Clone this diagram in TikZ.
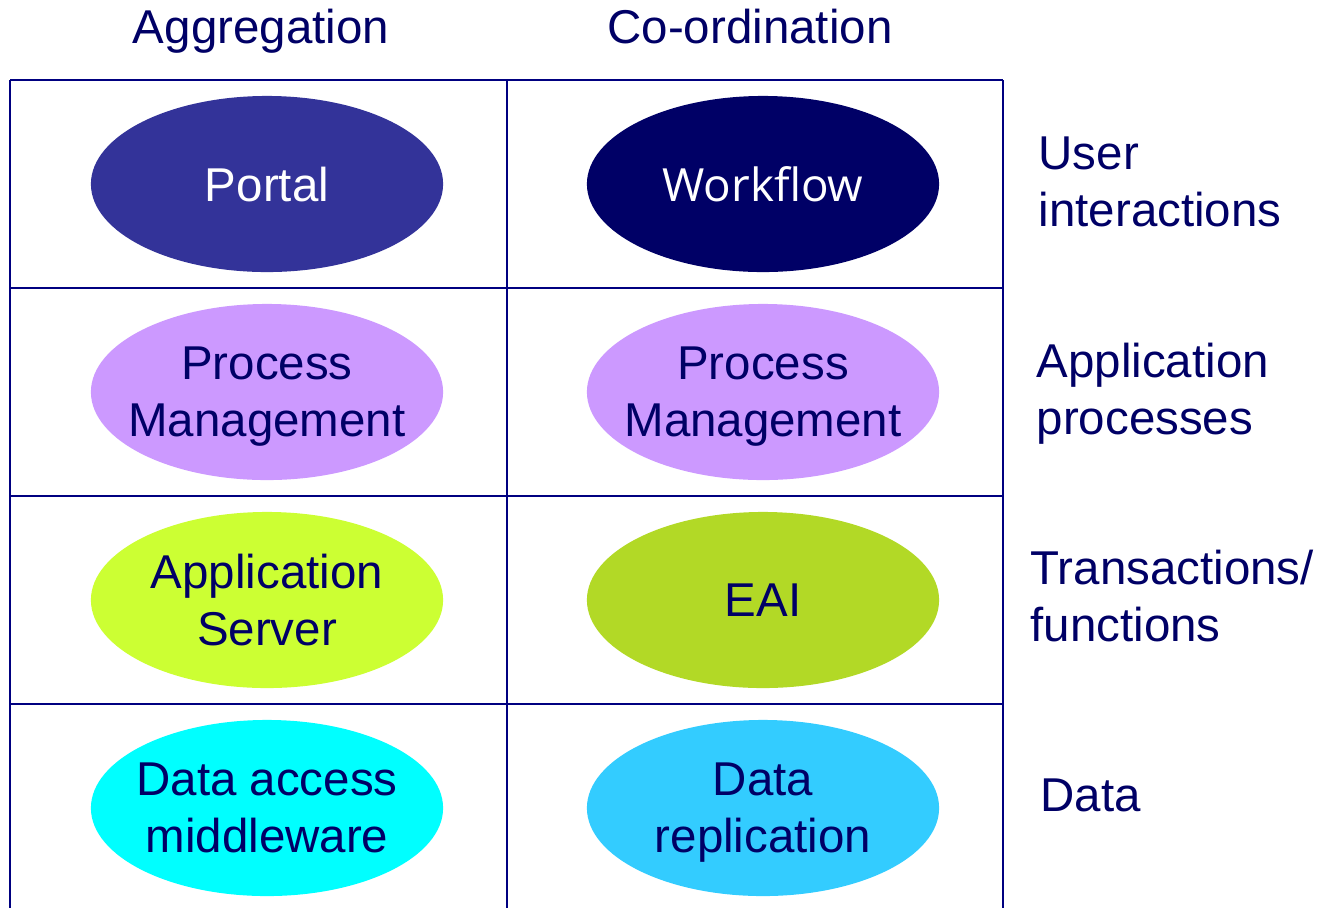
\documentclass[tikz,border=0pt]{standalone}
\usepackage{fontspec}
\setmainfont{Liberation Sans}
\newfontfamily\wfont{Open Sans}
\usetikzlibrary{shapes.geometric}
\definecolor{navy}{HTML}{000066}
\definecolor{gridblue}{HTML}{000080}
\definecolor{portalblue}{HTML}{333399}
\definecolor{lilac}{HTML}{CC99FF}
\definecolor{lime}{HTML}{CCFF33}
\definecolor{leaf}{HTML}{B2D926}
\definecolor{aqua}{HTML}{00FFFF}
\definecolor{sky}{HTML}{33CCFF}
\begin{document}
\begin{tikzpicture}[x=0.01cm, y=-0.01cm,
    every node/.style={text=navy, font=\fontsize{13.5}{16.2}\selectfont},
    n/.style={ellipse, fill=#1, minimum width=3.52cm, minimum height=1.76cm, inner sep=-10pt, text depth=0pt, align=center},
    lbl/.style={anchor=west, inner sep=0pt, align=left},
    rule/.style={draw=gridblue, line width=0.6pt}]
    \useasboundingbox (0,0) rectangle (1333,908);

    \foreach \y in {80,288,496,704}
        \draw[rule] (10,\y) -- (1003,\y);
    \foreach \x in {10,507,1003}
        \draw[rule] (\x,80) -- (\x,908);

    \node[anchor=base] (agg) at (261,43) {Aggregation};
    \node[anchor=base] (coord) at (750,43) {Co-ordination};

    \node[n=portalblue, text=white] (portal) at (267,184) {Portal};
    \node[n=navy, text=white, font=\wfont\fontsize{13}{15.6}\selectfont] (workflow) at (763,184) {Workflow};
    \node[n=lilac] (pm1) at (267,392) {Process\\Management};
    \node[n=lilac] (pm2) at (763,392) {Process\\Management};
    \node[n=lime] (appserver) at (267,600) {Application\\Server};
    \node[n=leaf] (eai) at (763,600) {EAI};
    \node[n=aqua] (dam) at (267,808) {Data access\\middleware};
    \node[n=sky] (repl) at (763,808) {Data\\replication};

    \node[lbl] (user) at (1038,182) {User\\interactions};
    \node[lbl] (app) at (1036,394) {Application\\processes};
    \node[lbl] (trans) at (1030,596) {Transactions/\\functions};
    \node[lbl] (data) at (1040,795) {Data};
\end{tikzpicture}
\end{document}
